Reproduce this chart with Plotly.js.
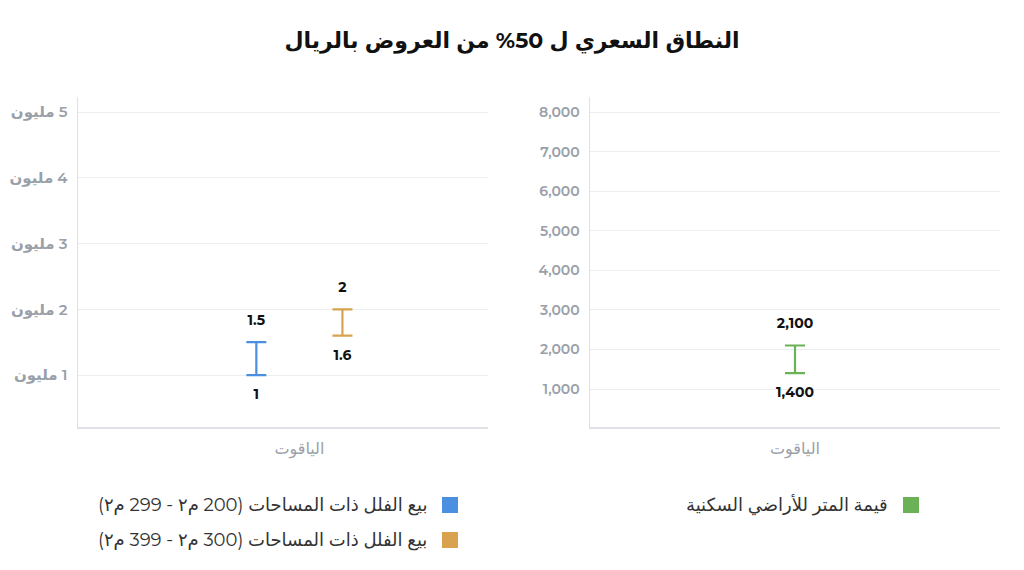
<!DOCTYPE html>
<html>
<head>
<meta charset="utf-8">
<script src="https://cdn.plot.ly/plotly-3.0.1.min.js"></script>
<style>
  body { margin: 0; background: #fff; }
  #chart { width: 1024px; height: 570px; }
</style>
</head>
<body>
<div id="chart"></div>
<script>
// data
const categories = ['الياقوت'];
const villa200Low = [1.0];   // million SAR
const villa200High = [1.5];
const villa300Low = [1.6];
const villa300High = [2.0];
const landLow = [1400];      // SAR per m2
const landHigh = [2100];
const millionTicks = [1, 2, 3, 4, 5];
const landTicks = [1000, 2000, 3000, 4000, 5000, 6000, 7000, 8000];

const titleText = 'النطاق السعري ل 50% من العروض بالريال';
const villa200Name = 'بيع الفلل ذات المساحات (200 م٢ - 299 م٢)';
const villa300Name = 'بيع الفلل ذات المساحات (300 م٢ - 399 م٢)';
const landName = 'قيمة المتر للأراضي السكنية';

const BLUE = '#4a8fe0', ORANGE = '#d9a24e', GREEN = '#6ab255';
const FONT = 'Montserrat, "Open Sans", "DejaVu Sans", sans-serif';

// right-to-left run
function rtl(s) { return '\u202B' + s + '\u202C'; }

function fmtMillion(v) { return String(v); }
function fmtThousands(v) { return v.toLocaleString('en-US'); }

// two text traces per series; the lower one carries the range bar
function rangeTraces(low, high, color, xa, ya, fmt, group) {
  const common = {
    type: 'scatter', x: categories, xaxis: xa, yaxis: ya,
    mode: 'markers+text', offsetgroup: group, cliponaxis: false,
    marker: { size: 20, color: 'rgba(0,0,0,0)' },
    textfont: { family: FONT, size: 14, color: '#111', weight: 700 },
    showlegend: false, hoverinfo: 'skip'
  };
  return [
    Object.assign({}, common, {
      y: low, text: low.map(fmt), textposition: 'bottom center',
      error_y: {
        type: 'data', symmetric: false,
        array: high.map((h, i) => h - low[i]),
        arrayminus: low.map(() => 0),
        color: color, thickness: 2.2, width: 10
      }
    }),
    Object.assign({}, common, {
      y: high, text: high.map(fmt), textposition: 'top center'
    })
  ];
}

const data = [].concat(
  rangeTraces(villa200Low, villa200High, BLUE, 'x', 'y', fmtMillion, 'a'),
  rangeTraces(villa300Low, villa300High, ORANGE, 'x', 'y', fmtMillion, 'b'),
  rangeTraces(landLow, landHigh, GREEN, 'x2', 'y2', fmtThousands, 'c')
);

const px = x => x / 1024;
const py = y => 1 - y / 570;

const axisX = {
  type: 'category', showgrid: false, showline: true, linecolor: '#dfe1e7', linewidth: 1.5,
  zeroline: false, ticks: '', fixedrange: true, ticklabelstandoff: 6,
  tickfont: { family: FONT, size: 16, color: '#9aa0a9' }
};
const axisY = {
  showline: true, linecolor: '#dfe1e7', linewidth: 1.5, zeroline: false,
  gridcolor: '#eceef2', gridwidth: 1, ticks: '', ticklabelstandoff: 6,
  tickfont: { family: FONT, size: 14, color: '#9aa0a9', weight: 600 }
};

function legendItem(x, y, color, name) {
  return {
    shape: { type: 'rect', xref: 'paper', yref: 'paper', x0: px(x), x1: px(x + 16),
      y0: py(y - 8), y1: py(y + 8), fillcolor: color, line: { width: 0 } },
    note: { xref: 'paper', yref: 'paper', x: px(x - 13), y: py(y), xanchor: 'right', yanchor: 'middle',
      showarrow: false, text: rtl(name), font: { family: FONT, size: 18, color: '#333' } }
  };
}
const legendItems = [
  legendItem(442, 505, BLUE, villa200Name),
  legendItem(442, 540, ORANGE, villa300Name),
  legendItem(903, 505, GREEN, landName)
];

const layout = {
  width: 1024, height: 570, autosize: false,
  margin: { l: 0, r: 0, t: 0, b: 0 },
  paper_bgcolor: '#fff', plot_bgcolor: '#fff',
  font: { family: FONT },
  scattermode: 'group', scattergap: 0.58,
  title: {
    text: rtl(titleText), x: 0.5, xanchor: 'center', y: 1 - 40 / 570, yanchor: 'middle',
    font: { family: FONT, size: 22, color: '#111', weight: 700 }
  },
  xaxis: Object.assign({}, axisX, { domain: [px(78), px(488)], anchor: 'y', range: [-0.54, 0.46] }),
  yaxis: Object.assign({}, axisY, {
    domain: [py(427), py(97)], anchor: 'x', range: [0.21, 5.23],
    tickvals: millionTicks, ticktext: millionTicks.map(v => rtl(v + ' مليون')),
    tickfont: { family: FONT, size: 15, color: '#9aa0a9', weight: 600 }
  }),
  xaxis2: Object.assign({}, axisX, { domain: [px(590), px(1000)], anchor: 'y2', range: [-0.5, 0.5] }),
  yaxis2: Object.assign({}, axisY, {
    domain: [py(427), py(97)], anchor: 'x2', range: [40, 8380],
    tickvals: landTicks, tickformat: ','
  }),
  shapes: legendItems.map(d => d.shape),
  annotations: legendItems.map(d => d.note),
  showlegend: false
};

Plotly.newPlot('chart', data, layout, { staticPlot: true });
</script>
</body>
</html>
